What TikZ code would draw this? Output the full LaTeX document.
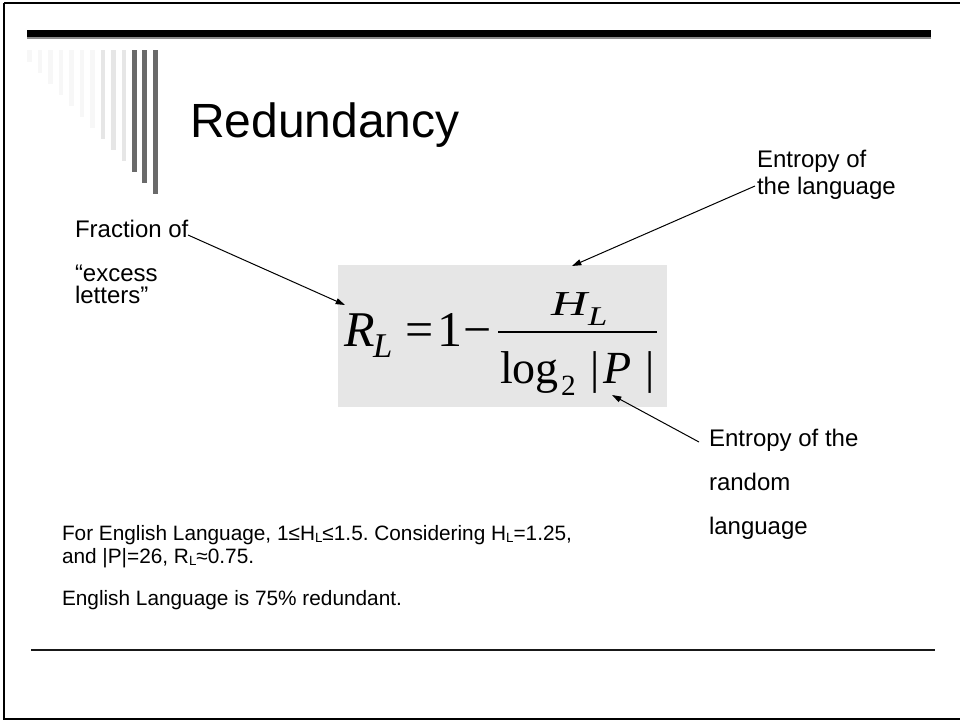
\documentclass[tikz,border=0pt]{standalone}
\usepackage{fontspec}
\setmainfont{Liberation Sans}
\newfontfamily\tnr{Liberation Serif}
\usetikzlibrary{arrows.meta}
\frenchspacing
\definecolor{stripedark}{HTML}{6A6A6A}
\definecolor{stripelight}{HTML}{E6E6E6}
\definecolor{stripefaint}{HTML}{F7F7F7}
\definecolor{eqbg}{HTML}{E6E6E6}
\tikzset{
  txt/.style={anchor=base west,inner sep=0pt,outer sep=0pt},
  lbl/.style={txt,font=\fontsize{18}{18}\selectfont},
  body/.style={txt,font=\fontsize{15.6}{16}\selectfont},
  eq/.style={txt},
  pointer/.style={line width=0.75pt,-{Triangle[length=7pt,width=4.5pt]}},
}
\newcommand{\lsub}[1]{\raisebox{-1.6pt}{\fontsize{10}{10}\selectfont #1}}
\newcommand{\twolines}[3]{\vtop{\baselineskip=#1\lineskiplimit=-100pt\lineskip=0pt\hbox{#2}\hbox{#3}}}
\begin{document}
\begin{tikzpicture}[x=0.75pt,y=-0.75pt]
\useasboundingbox (0,0) rectangle (960,721);
% frame
\draw[line width=1.7pt] (3.8,3) -- (963,3);
\draw[line width=1.7pt] (3.8,3) -- (3.8,718.7) -- (963,718.7);
% top bar
\fill[black!45] (27,36) rectangle (931,38.5);
\fill[black] (27,30) rectangle (931,37);
% stripes
\foreach \i/\c in {1/stripefaint,2/stripefaint,3/stripefaint,4/stripefaint,5/stripefaint,6/stripefaint,7/stripefaint,8/stripelight,9/stripelight,10/stripelight,11/stripedark,12/stripedark,13/stripedark}{
  \fill[\c] ({27.3+10.47*(\i-1)},50) rectangle ({32+10.47*(\i-1)},{61.7+11.03*(\i-1)});
}
% bottom line
\draw[line width=1.3pt,black!90] (31,650) -- (935,650);
% title
\node[txt,font=\fontsize{36}{36}\selectfont] (title) at (190,137) {Redundancy};
% formula box
\fill[eqbg] (338,265) rectangle (667,407);
\node[eq,font=\tnr\itshape\fontsize{37.5}{37.5}\selectfont] (R) at (344,346) {R};
\node[eq,font=\tnr\itshape\fontsize{26}{26}\selectfont] (RL) at (373,357) {L};
\node[eq,font=\tnr\fontsize{37.5}{37.5}\selectfont] (eqs) at (405.5,346) {=};
\node[eq,font=\tnr\fontsize{37.5}{37.5}\selectfont] (one) at (437,346) {1};
\node[eq,font=\tnr\fontsize{37.5}{37.5}\selectfont] (minus) at (463,346) {−};
\draw[line width=1.5pt] (498,332) -- (657,332);
\node[eq,font=\tnr\itshape\fontsize{37.5}{37.5}\selectfont] (H) at (551,315) {\scalebox{1}[0.7]{H}};
\node[eq,font=\tnr\itshape\fontsize{26}{26}\selectfont] (HL) at (588,325) {\scalebox{1}[0.78]{L}};
\node[eq,font=\tnr\fontsize{34.5}{34.5}\selectfont] (log) at (500,383) {log};
\node[eq,font=\tnr\fontsize{22}{22}\selectfont] (two) at (561,395) {2};
\node[eq,font=\tnr\fontsize{34.5}{34.5}\selectfont] (bar1) at (590,383) {|};
\node[eq,font=\tnr\itshape\fontsize{34.5}{34.5}\selectfont] (P) at (603,383) {P};
\node[eq,font=\tnr\fontsize{34.5}{34.5}\selectfont] (bar2) at (645,383) {|};
% labels
\node[lbl] (frac) at (75,237) {Fraction of};
\node[lbl] (exc) at (75,281) {\twolines{16.5pt}{“excess}{letters”}};
\node[lbl] (ent) at (757,167) {\twolines{20.25pt}{Entropy of}{the language}};
\node[lbl] (rnd1) at (709,446) {Entropy of the};
\node[lbl] (rnd2) at (709,490) {random};
\node[lbl] (rnd3) at (709,534) {language};
% body
\node[body] (b1) at (62,540) {For English Language, 1≤H\lsub{L}≤1.5. Considering H\lsub{L}=1.25,};
\node[body] (b2) at (62,563) {and |P|=26, R\lsub{L}≈0.75.};
\node[body] (b3) at (62,605) {English Language is 75\% redundant.};
% arrows
\coordinate (fracend) at (188,235);
\coordinate (Rtip) at (345,305);
\coordinate (entend) at (755,186);
\coordinate (Htip) at (572,266);
\coordinate (rndend) at (699,442);
\coordinate (Ptip) at (612,395);
\draw[pointer] (fracend) -- (Rtip);
\draw[pointer] (entend) -- (Htip);
\draw[pointer] (rndend) -- (Ptip);
\end{tikzpicture}
\end{document}
